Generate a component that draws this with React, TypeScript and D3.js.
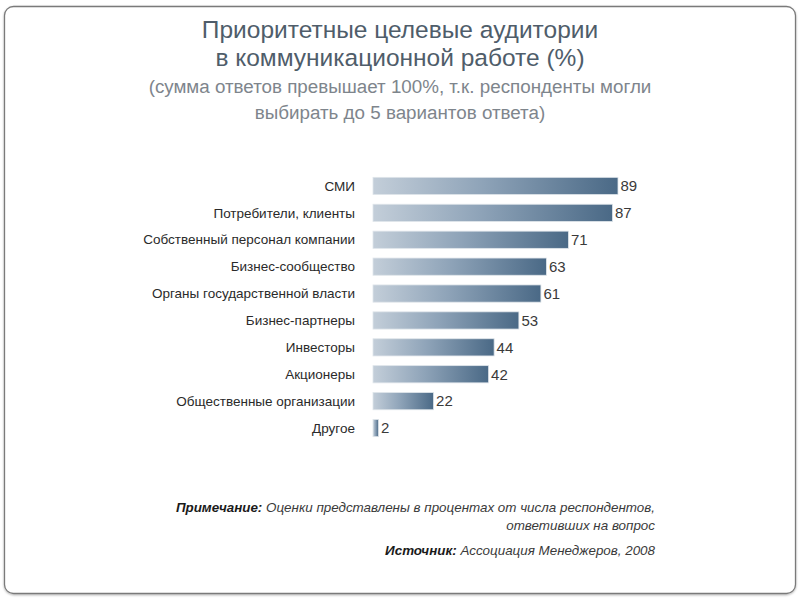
import React from "react";
import * as d3 from "d3";

const categories = [
  "СМИ",
  "Потребители, клиенты",
  "Собственный персонал компании",
  "Бизнес-сообщество",
  "Органы государственной власти",
  "Бизнес-партнеры",
  "Инвесторы",
  "Акционеры",
  "Общественные организации",
  "Другое",
];
const values = [89, 87, 71, 63, 61, 53, 44, 42, 22, 2];

const titleLines = ["Приоритетные целевые аудитории", "в коммуникационной работе (%)"];
const subtitleLines = [
  "(сумма ответов превышает 100%, т.к. респонденты могли",
  "выбирать до 5 вариантов ответа)",
];

const NARROW = "'Liberation Sans Narrow', 'Arial Narrow', 'Liberation Sans', sans-serif";

export default function App() {
  const W = 800;
  const H = 600;
  const x0 = 373;
  const x = d3.scaleLinear().domain([0, 89]).range([x0, 618]);
  const y = d3.scaleBand<string>().domain(categories).range([172.5, 441.5]).paddingInner(0.36).paddingOuter(0.18);

  return (
    <svg
      width={W}
      height={H}
      style={{ position: "absolute", left: 0, top: 0, background: "#fff" }}
    >
      <defs>
        <linearGradient id="barGrad" x1="0" x2="1" y1="0" y2="0">
          <stop offset="0%" stopColor="#c3ced9" />
          <stop offset="45%" stopColor="#8ea3b8" />
          <stop offset="100%" stopColor="#4a6986" />
        </linearGradient>
        <filter id="shadow" x="-5%" y="-5%" width="110%" height="110%">
          <feDropShadow dx="0" dy="1" stdDeviation="1.2" floodColor="#000" floodOpacity="0.3" />
        </filter>
      </defs>
      <rect x={4.5} y={6.5} width={791} height={587} rx={9} fill="#fff" stroke="#7a7a7a" strokeWidth={1.3} filter="url(#shadow)" />

      {titleLines.map((t, i) => (
        <text
          key={"t" + i}
          x={400}
          y={38 + i * 28}
          textAnchor="middle"
          fontFamily={NARROW}
          fontSize={24.5}
          fill="#4f5d6a"
        >
          {t}
        </text>
      ))}
      {subtitleLines.map((t, i) => (
        <text
          key={"s" + i}
          x={400}
          y={93 + i * 26}
          textAnchor="middle"
          fontFamily={NARROW}
          fontSize={18.8}
          fill="#7e858c"
        >
          {t}
        </text>
      ))}

      {categories.map((c, i) => {
        const yy = y(c) as number;
        const bh = y.bandwidth();
        const w = x(values[i]) - x0;
        return (
          <g key={c}>
            <text
              x={355}
              y={yy + bh / 2}
              dy="0.35em"
              textAnchor="end"
              fontFamily={NARROW}
              fontSize={13.5}
              fill="#2a2a2a"
            >
              {c}
            </text>
            <rect x={x0} y={yy} width={w} height={bh} fill="url(#barGrad)" stroke="#dfe5ea" strokeWidth={0.8} />
            <text
              x={x(values[i]) + 2.5}
              y={yy + bh / 2}
              dy="0.35em"
              fontFamily={NARROW}
              fontSize={15}
              fill="#3a3a3a"
            >
              {values[i]}
            </text>
          </g>
        );
      })}

      <text x={655} y={512} textAnchor="end" fontFamily={NARROW} fontSize={13.4} fontStyle="italic" fill="#3a3a3a">
        <tspan fontWeight="bold" fill="#1a1a1a">Примечание:</tspan> Оценки представлены в процентах от числа респондентов,
      </text>
      <text x={655} y={530} textAnchor="end" fontFamily={NARROW} fontSize={13.4} fontStyle="italic" fill="#3a3a3a">
        ответивших на вопрос
      </text>
      <text x={655} y={555} textAnchor="end" fontFamily={NARROW} fontSize={13.4} fontStyle="italic" fill="#3a3a3a">
        <tspan fontWeight="bold" fill="#1a1a1a">Источник:</tspan> Ассоциация Менеджеров, 2008
      </text>
    </svg>
  );
}
